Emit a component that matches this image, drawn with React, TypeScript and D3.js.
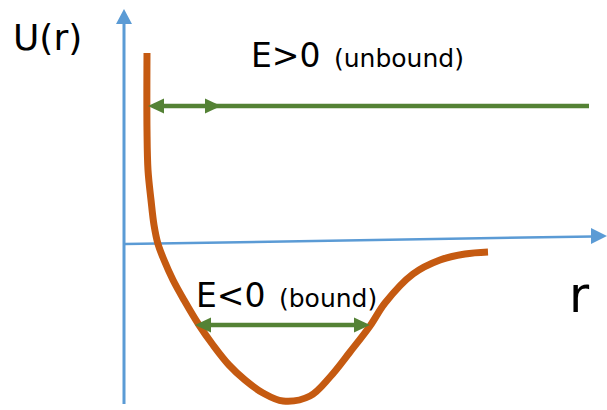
import React from "react";
import * as d3 from "d3";

// Potential curve U(r) (arbitrary units)
const rValues = [22, 22, 23, 26, 29, 33, 39, 48, 59, 74, 88, 104, 120, 138, 158, 185, 205, 225, 245, 260, 288, 315, 340, 363];
const uValues = [191, 114, 74, 44, 19, 0, -16, -36, -56, -81, -101, -121, -136, -149, -157, -152, -133, -108, -82, -59, -30, -16, -10, -8];

// Energy levels
const levelNames = ["E>0", "E<0"];
const levelSubs = ["(unbound)", "(bound)"];
const levelU = [138, -81];
const levelR0 = [23, 70];
const levelR1 = [464, 245];

const axisLabels = ["U(r)", "r"];

const W = 607;
const H = 410;

export default function App() {
  const x = d3.scaleLinear().domain([0, 482]).range([125, 607]);
  const y = d3.scaleLinear().domain([-160, 240]).range([404, 4]);
  const blue = "#5b9bd5";
  const orange = "#c55a11";
  const green = "#548235";
  const font = "'DejaVu Sans', sans-serif";

  const line = d3
    .line<number>()
    .x((_, i) => x(rValues[i]))
    .y((d) => y(d))
    .curve(d3.curveCatmullRom.alpha(0.5));

  const arrowHead = (tx: number, ty: number, dir: number, len: number, half: number, fill: string, key: string) => (
    <path
      key={key}
      d={`M${tx},${ty} L${tx - dir * len},${ty - half} L${tx - dir * len},${ty + half} Z`}
      fill={fill}
    />
  );

  return (
    <div style={{ position: "absolute", left: 0, top: 0 }}>
      <svg width={W} height={H} style={{ display: "block", background: "#fff" }}>
        {/* y axis */}
        <line x1={x(0) - 1} y1={y(-160)} x2={x(0) - 1} y2={y(220)} stroke={blue} strokeWidth={3} />
        <path d={`M${x(0) - 1},${y(235)} L${x(0) - 9},${y(220)} L${x(0) + 7},${y(220)} Z`} fill={blue} />
        {/* x axis (slightly tilted) */}
        <line x1={x(0)} y1={y(0)} x2={x(468)} y2={y(7.5)} stroke={blue} strokeWidth={2.5} />
        <path d={`M${x(482)},${y(8)} L${x(466)},${y(16)} L${x(466)},${y(0)} Z`} fill={blue} />

        {/* potential curve */}
        <path d={line(uValues) || ""} fill="none" stroke={orange} strokeWidth={7} strokeLinecap="butt" />

        {/* energy levels */}
        {levelU.map((u, i) => {
          const yy = y(u);
          const x0 = x(levelR0[i]);
          const x1 = x(levelR1[i]);
          const els = [
            <line key={"l" + i} x1={x0 + 10} y1={yy} x2={x1 - (i === 1 ? 10 : 0)} y2={yy} stroke={green} strokeWidth={4.5} />,
            arrowHead(x0, yy, -1, 16, 7.5, green, "a" + i),
          ];
          if (i === 1) els.push(arrowHead(x1, yy, 1, 16, 7.5, green, "b" + i));
          else els.push(arrowHead(x(96), yy, 1, 16, 7.5, green, "c" + i));
          return <g key={i}>{els}</g>;
        })}

        {/* labels */}
        <text x={251} y={67} fontFamily={font} fontSize={33} fill="#000">{levelNames[0]}</text>
        <text x={334} y={67} fontFamily={font} fontSize={25} fill="#000">{levelSubs[0]}</text>
        <text x={196} y={307} fontFamily={font} fontSize={33} fill="#000">{levelNames[1]}</text>
        <text x={279} y={307} fontFamily={font} fontSize={25} fill="#000">{levelSubs[1]}</text>
        <text x={13} y={50} fontFamily={font} fontSize={36} fill="#000">{axisLabels[0]}</text>
        <text x={569} y={312} fontFamily={font} fontSize={49} fill="#000">{axisLabels[1]}</text>
      </svg>
    </div>
  );
}
